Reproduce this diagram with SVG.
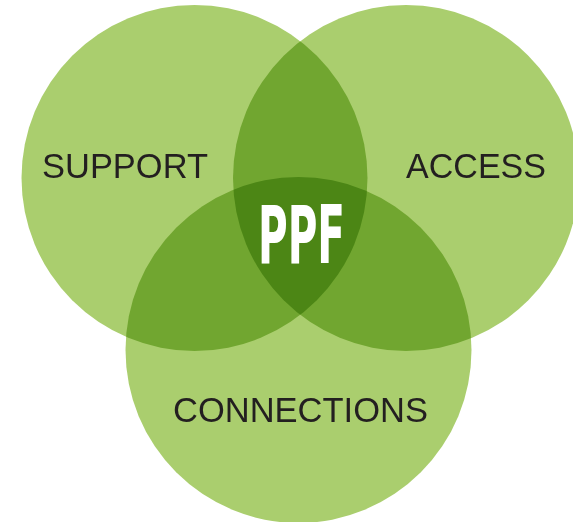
<svg xmlns="http://www.w3.org/2000/svg" width="573" height="522" viewBox="0 0 573 522">
<style>
.c{fill:#AACE6E;mix-blend-mode:multiply}
.t{font-family:"Liberation Sans",Arial,sans-serif;font-size:34.5px;fill:#231F20}
.p{font-family:"DejaVu Sans Condensed","DejaVu Sans",sans-serif;font-weight:bold;font-size:80px;fill:#FFFFFF}
</style>
<rect width="573" height="522" fill="#FFFFFF"/>
<g id="support"><circle class="c" cx="194.5" cy="178" r="173"/></g>
<g id="access"><circle class="c" cx="406" cy="178" r="173"/></g>
<g id="connections"><circle class="c" cx="298.5" cy="350" r="173"/></g>
<g id="labels">
<text class="t" x="42" y="178" textLength="166" lengthAdjust="spacingAndGlyphs">SUPPORT</text>
<text class="t" x="406" y="178" textLength="140" lengthAdjust="spacingAndGlyphs">ACCESS</text>
<text class="t" x="173" y="422" textLength="255" lengthAdjust="spacingAndGlyphs">CONNECTIONS</text>
<text class="p" x="258" y="263" textLength="87" lengthAdjust="spacingAndGlyphs">PPF</text>
</g>
</svg>
